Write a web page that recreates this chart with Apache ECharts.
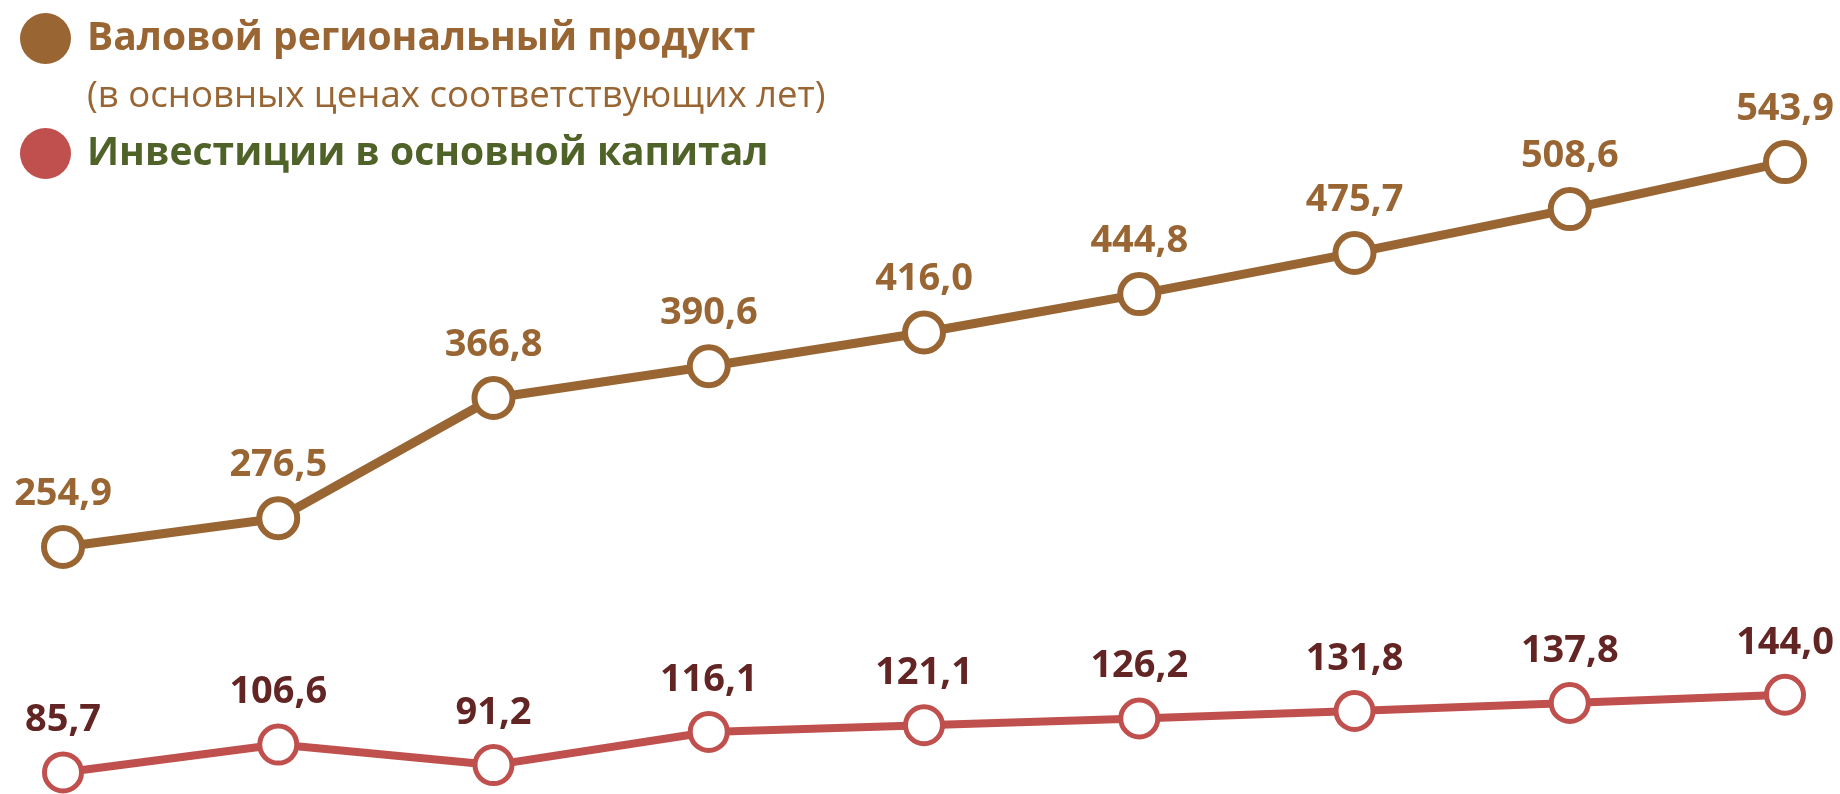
<!DOCTYPE html>
<html>
<head>
<meta charset="utf-8">
<script src="https://cdn.jsdelivr.net/npm/echarts@6/dist/echarts.min.js"></script>
<style>
    html, body { margin: 0; padding: 0; background: #fff; }
    #main { width: 1840px; height: 794px; }
</style>
</head>
<body>
<div id="main"></div>
<script>
// годы не подписаны на исходной картинке — только порядковые точки
var categories = ['1', '2', '3', '4', '5', '6', '7', '8', '9'];
var vrpValues = [254.9, 276.5, 366.8, 390.6, 416.0, 444.8, 475.7, 508.6, 543.9];
var investValues = [85.7, 106.6, 91.2, 116.1, 121.1, 126.2, 131.8, 137.8, 144.0];

var vrpName = 'Валовой региональный продукт';
var investName = 'Инвестиции в основной капитал';
var vrpNote = '(в основных ценах соответствующих лет)';

var brown = '#996633';
var red = '#C0504D';
var darkRed = '#632523';
var green = '#4F6228';

// число с запятой, как в оригинале
function fmtComma(p) {
    return p.value.toFixed(1).replace('.', ',');
}

var myChart = echarts.init(document.getElementById('main'));

var option = {
    animation: false,
    textStyle: { fontFamily: 'Open Sans' },
    title: {
        text: vrpNote,
        left: 82,
        top: 72,
        textStyle: { color: brown, fontSize: 36.6, lineHeight: 40, fontWeight: 'normal', fontFamily: 'Open Sans' }
    },
    legend: {
        orient: 'vertical',
        left: 15,
        top: 8,
        itemWidth: 51,
        itemHeight: 51,
        itemGap: 64,
        icon: 'circle',
        textStyle: {
            fontSize: 39,
            fontWeight: 'bold',
            fontFamily: 'Open Sans',
            lineHeight: 51,
            padding: [0, 0, 0, 11]
        },
        data: [
            { name: vrpName, itemStyle: { color: brown, borderWidth: 0 }, textStyle: { color: brown } },
            { name: investName, itemStyle: { color: red, borderWidth: 0 }, textStyle: { color: green } }
        ]
    },
    grid: { left: 63, right: 55, top: 0, bottom: 0 },
    xAxis: {
        type: 'category',
        data: categories,
        boundaryGap: false,
        show: false
    },
    yAxis: {
        type: 'value',
        min: 69.5,
        max: 665.6,
        show: false
    },
    series: [
        {
            name: vrpName,
            type: 'line',
            data: vrpValues,
            symbol: 'circle',
            symbolSize: 38,
            lineStyle: { color: brown, width: 9 },
            itemStyle: { color: '#fff', borderColor: brown, borderWidth: 6 },
            label: {
                show: true,
                position: 'top',
                distance: 12,
                color: brown,
                fontSize: 38,
                fontWeight: 'bold',
                fontFamily: 'Open Sans',
                formatter: fmtComma
            },
            z: 3
        },
        {
            name: investName,
            type: 'line',
            data: investValues,
            symbol: 'circle',
            symbolSize: 37,
            lineStyle: { color: red, width: 8 },
            itemStyle: { color: '#fff', borderColor: red, borderWidth: 5 },
            label: {
                show: true,
                position: 'top',
                distance: 12,
                color: darkRed,
                fontSize: 38,
                fontWeight: 'bold',
                fontFamily: 'Open Sans',
                formatter: fmtComma
            },
            z: 3
        }
    ]
};

myChart.setOption(option);
</script>
</body>
</html>
